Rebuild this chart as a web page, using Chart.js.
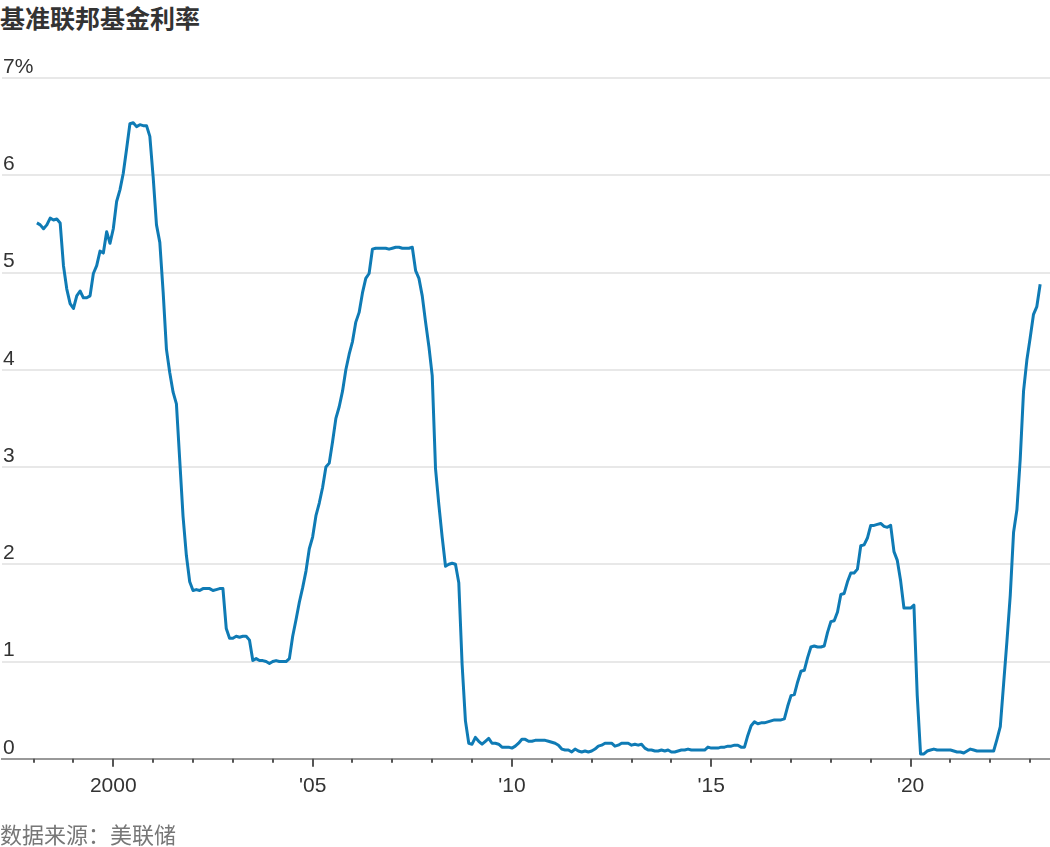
<!DOCTYPE html>
<html>
<head>
<meta charset="utf-8">
<script src="https://cdn.jsdelivr.net/npm/chart.js@4.4.1/dist/chart.umd.min.js"></script>
<style>
  body { margin: 0; background: #fff; }
  #title {
    position: absolute; left: 0; top: 2px;
    font: bold 25px/30px "Noto Sans CJK SC", sans-serif; color: #333;
  }
  #wrap { position: absolute; left: 0; top: 0; width: 1050px; height: 847px; }
  #source {
    position: absolute; left: 0; top: 820px;
    font: 22px/26px "Noto Sans CJK SC", sans-serif; color: #777;
  }
</style>
</head>
<body>
<div id="title">基准联邦基金利率</div>
<div id="wrap"><canvas id="chart"></canvas></div>
<div id="source">数据来源：美联储</div>
<script>
(function () {
  'use strict';

  // monthly effective rate, first point is Feb 1998
  var firstYear = 1998;
  var firstMonth = 1; // 0 = Jan
  var rates = [
          5.51, 5.49, 5.45, 5.49, 5.56, 5.54, 5.55, 5.51, 5.07, 4.83, 4.68, // 1998
    4.63, 4.76, 4.81, 4.74, 4.74, 4.76, 4.99, 5.07, 5.22, 5.20, 5.42, 5.30, // 1999
    5.45, 5.73, 5.85, 6.02, 6.27, 6.53, 6.54, 6.50, 6.52, 6.51, 6.51, 6.40, // 2000
    5.98, 5.49, 5.31, 4.80, 4.21, 3.97, 3.77, 3.65, 3.07, 2.49, 2.09, 1.82, // 2001
    1.73, 1.74, 1.73, 1.75, 1.75, 1.75, 1.73, 1.74, 1.75, 1.75, 1.34, 1.24, // 2002
    1.24, 1.26, 1.25, 1.26, 1.26, 1.22, 1.01, 1.03, 1.01, 1.01, 1.00, 0.98, // 2003
    1.00, 1.01, 1.00, 1.00, 1.00, 1.03, 1.26, 1.43, 1.61, 1.76, 1.93, 2.16, // 2004
    2.28, 2.50, 2.63, 2.79, 3.00, 3.04, 3.26, 3.50, 3.62, 3.78, 4.00, 4.16, // 2005
    4.29, 4.49, 4.59, 4.79, 4.94, 4.99, 5.24, 5.25, 5.25, 5.25, 5.25, 5.24, // 2006
    5.25, 5.26, 5.26, 5.25, 5.25, 5.25, 5.26, 5.02, 4.94, 4.76, 4.49, 4.24, // 2007
    3.94, 2.98, 2.61, 2.28, 1.98, 2.00, 2.01, 2.00, 1.81, 0.97, 0.39, 0.16, // 2008
    0.15, 0.22, 0.18, 0.15, 0.18, 0.21, 0.16, 0.16, 0.15, 0.12, 0.12, 0.12, // 2009
    0.11, 0.13, 0.16, 0.20, 0.20, 0.18, 0.18, 0.19, 0.19, 0.19, 0.19, 0.18, // 2010
    0.17, 0.16, 0.14, 0.10, 0.09, 0.09, 0.07, 0.10, 0.08, 0.07, 0.08, 0.07, // 2011
    0.08, 0.10, 0.13, 0.14, 0.16, 0.16, 0.16, 0.13, 0.14, 0.16, 0.16, 0.16, // 2012
    0.14, 0.15, 0.14, 0.15, 0.11, 0.09, 0.09, 0.08, 0.08, 0.09, 0.08, 0.09, // 2013
    0.07, 0.07, 0.08, 0.09, 0.09, 0.10, 0.09, 0.09, 0.09, 0.09, 0.09, 0.12, // 2014
    0.11, 0.11, 0.11, 0.12, 0.12, 0.13, 0.13, 0.14, 0.14, 0.12, 0.12, 0.24, // 2015
    0.34, 0.38, 0.36, 0.37, 0.37, 0.38, 0.39, 0.40, 0.40, 0.40, 0.41, 0.54, // 2016
    0.65, 0.66, 0.79, 0.90, 0.91, 1.04, 1.15, 1.16, 1.15, 1.15, 1.16, 1.30, // 2017
    1.41, 1.42, 1.51, 1.69, 1.70, 1.82, 1.91, 1.91, 1.95, 2.19, 2.20, 2.27, // 2018
    2.40, 2.40, 2.41, 2.42, 2.39, 2.38, 2.40, 2.13, 2.04, 1.83, 1.55, 1.55, // 2019
    1.55, 1.58, 0.65, 0.05, 0.05, 0.08, 0.09, 0.10, 0.09, 0.09, 0.09, 0.09, // 2020
    0.09, 0.08, 0.07, 0.07, 0.06, 0.08, 0.10, 0.09, 0.08, 0.08, 0.08, 0.08, // 2021
    0.08, 0.08, 0.20, 0.33, 0.77, 1.21, 1.68, 2.33, 2.56, 3.08, 3.78, 4.10, // 2022
    4.33, 4.57, 4.65, 4.88                                                  // 2023
  ];

  var xTickYears = [2000, 2005, 2010, 2015, 2020];
  var xTickLabels = ['2000', "'05", "'10", "'15", "'20"];
  var minorTickYears = [];
  for (var yr = 1998; yr <= 2023; yr++) minorTickYears.push(yr);
  var yTickLabels = ['0', '1', '2', '3', '4', '5', '6', '7%'];

  var lineColor = '#0f7bb5';

  var points = rates.map(function (r, i) {
    var m = firstMonth + i;
    return { x: firstYear + m / 12, y: r };
  });

  var yearTicks = {
    id: 'yearTicks',
    afterDraw: function (chart) {
      var ctx = chart.ctx;
      var xs = chart.scales.x;
      var base = chart.chartArea.bottom;
      ctx.save();
      ctx.strokeStyle = '#555';
      ctx.lineWidth = 2;
      minorTickYears.forEach(function (y) {
        var px = Math.round(xs.getPixelForValue(y));
        var len = xTickYears.indexOf(y) >= 0 ? 8 : 4;
        ctx.beginPath();
        ctx.moveTo(px, base);
        ctx.lineTo(px, base + len);
        ctx.stroke();
      });
      ctx.restore();
    }
  };

  Chart.defaults.font.family = "'Liberation Sans', Arial, sans-serif";
  Chart.defaults.font.size = 21;
  Chart.defaults.color = '#333';

  var config = {
    type: 'line',
    data: {
      datasets: [{
        data: points,
        borderColor: lineColor,
        borderWidth: 3,
        pointRadius: 0,
        tension: 0,
        fill: false,
        borderJoinStyle: 'round'
      }]
    },
    options: {
      responsive: true,
      maintainAspectRatio: false,
      animation: false,
      layout: { padding: { top: 78, left: 0, right: 0, bottom: 33 } },
      plugins: {
        legend: { display: false },
        tooltip: { enabled: false }
      },
      scales: {
        x: {
          type: 'linear',
          min: 1997.208,
          max: 2023.497,
          afterBuildTicks: function (scale) {
            scale.ticks = xTickYears.map(function (v) { return { value: v }; });
          },
          ticks: {
            padding: 15,
            maxRotation: 0,
            autoSkip: false,
            callback: function (v) {
              var i = xTickYears.indexOf(v);
              return i >= 0 ? xTickLabels[i] : '';
            }
          },
          grid: { display: false, drawTicks: false },
          border: { display: true, color: '#999', width: 2 }
        },
        y: {
          min: 0,
          max: 7,
          ticks: {
            stepSize: 1,
            mirror: true,
            padding: 1,
            labelOffset: -11,
            callback: function (v) { return yTickLabels[v]; }
          },
          grid: { color: '#e8e8e8', lineWidth: 2, drawTicks: false },
          border: { display: false }
        }
      }
    },
    plugins: [yearTicks]
  };

  var ctx = document.getElementById('chart').getContext('2d');
  window.rateChart = new Chart(ctx, config);
})();
</script>
</body>
</html>
